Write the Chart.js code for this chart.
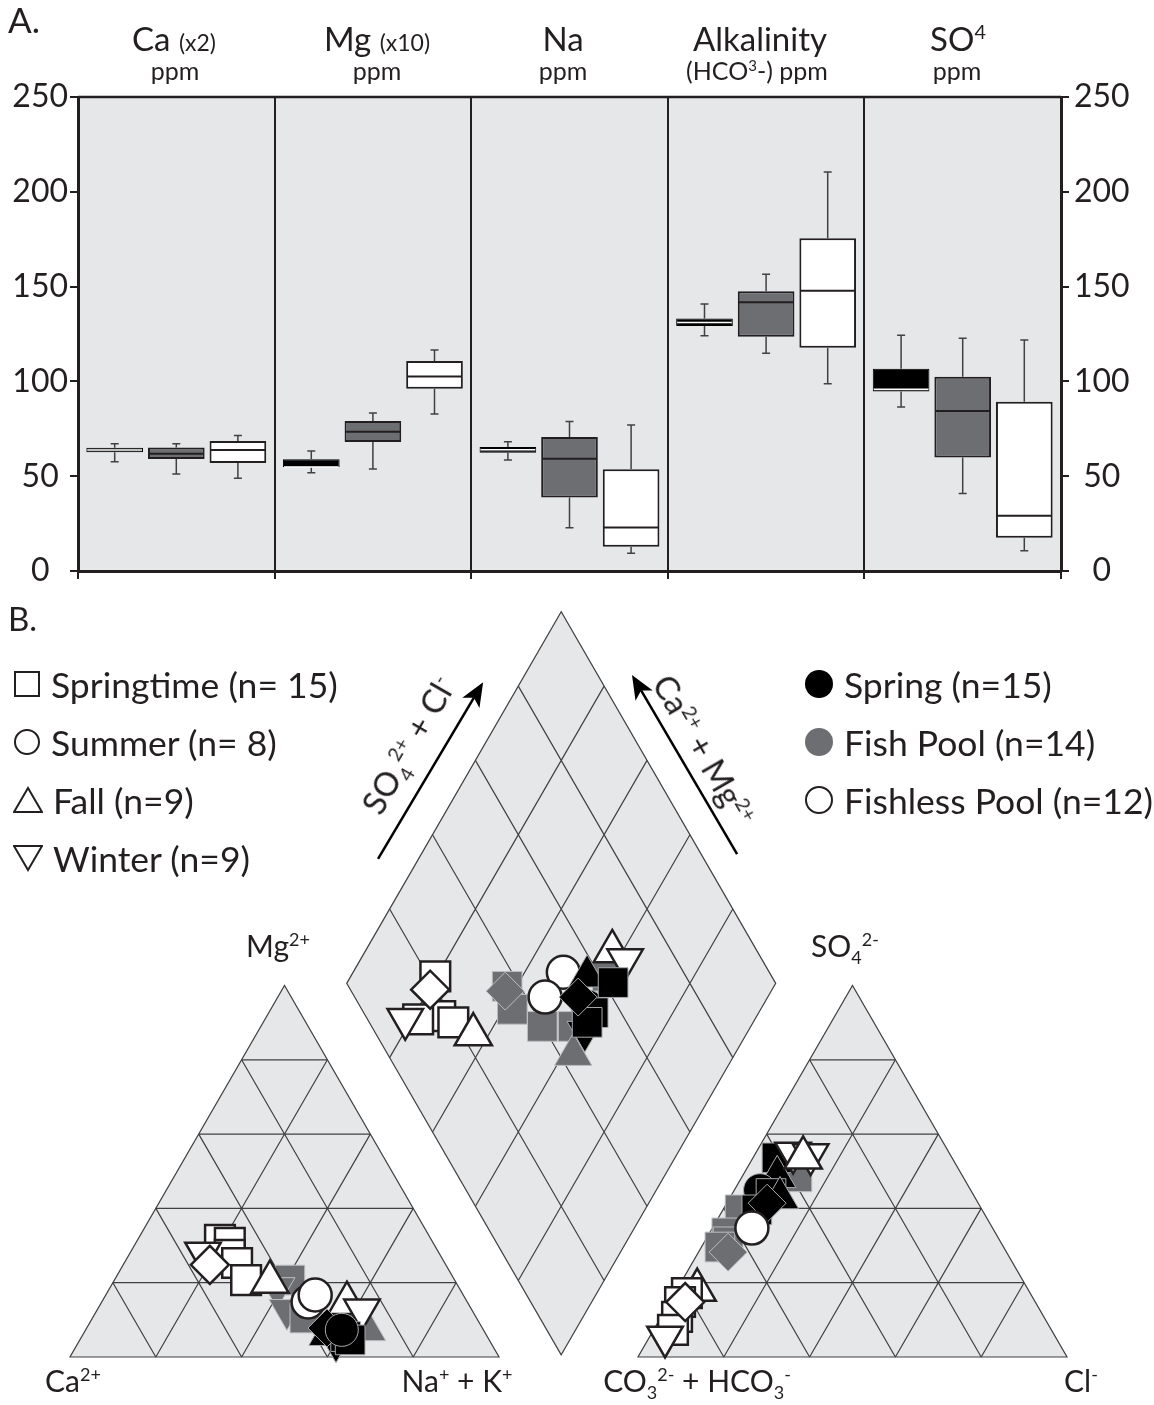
<!DOCTYPE html>
<html>
<head>
<meta charset="utf-8">
<script src="https://cdn.jsdelivr.net/npm/chart.js@4.4.1/dist/chart.umd.min.js"></script>
<style>
  body { margin: 0; background: #fff; font-family: Lato, 'Open Sans', sans-serif; color: #231f20; }
  #page { position: relative; width: 1154px; height: 1405px; overflow: hidden; }
  canvas { position: absolute; left: 0; }
  .lbl { position: absolute; white-space: nowrap; line-height: 1; }
  .ctr { transform: translate(-50%, -50%); }
  .hd { position: absolute; white-space: nowrap; line-height: 1; transform: translateX(-50%); }
  .hd small { font-size: 23px; }
  sup, sub { font-size: 60%; line-height: 0; }
  .leg { position: absolute; display: flex; align-items: center; height: 40px; font-size: 35.5px; white-space: nowrap; }
  .leg svg { margin-right: 10px; }
</style>
</head>
<body>
<div id="page">
  <canvas id="boxChart" width="1154" height="600" style="top:0"></canvas>
  <canvas id="piperChart" width="1154" height="805" style="top:600px"></canvas>

  <div class="lbl" style="left:8px;top:2px;font-size:35px">A.</div>
  <div class="hd" style="left:174px;top:22px;font-size:33px">Ca <small>(x2)</small></div>
  <div class="hd" style="left:175px;top:58px;font-size:25px">ppm</div>
  <div class="hd" style="left:377px;top:22px;font-size:33px">Mg <small>(x10)</small></div>
  <div class="hd" style="left:377px;top:58px;font-size:25px">ppm</div>
  <div class="hd" style="left:563px;top:22px;font-size:33px">Na</div>
  <div class="hd" style="left:563px;top:58px;font-size:25px">ppm</div>
  <div class="hd" style="left:760px;top:22px;font-size:33px">Alkalinity</div>
  <div class="hd" style="left:757px;top:58px;font-size:25px">(HCO<sup>3</sup>-) ppm</div>
  <div class="hd" style="left:958px;top:22px;font-size:33px">SO<sup>4</sup></div>
  <div class="hd" style="left:957px;top:58px;font-size:25px">ppm</div>

  <div class="lbl" style="left:8px;top:602px;font-size:33px">B.</div>

  <div class="leg" style="left:13px;top:664px">
    <svg width="28" height="28"><rect x="2" y="2" width="24" height="24" fill="none" stroke="#231f20" stroke-width="2"/></svg>Springtime (n= 15)</div>
  <div class="leg" style="left:13px;top:722px">
    <svg width="28" height="28"><circle cx="14" cy="14" r="12" fill="none" stroke="#231f20" stroke-width="2"/></svg>Summer (n= 8)</div>
  <div class="leg" style="left:13px;top:780px">
    <svg width="30" height="28"><polygon points="15,2 29,26 1,26" fill="none" stroke="#231f20" stroke-width="2"/></svg>Fall (n=9)</div>
  <div class="leg" style="left:13px;top:838px">
    <svg width="30" height="28"><polygon points="1,2 29,2 15,26" fill="none" stroke="#231f20" stroke-width="2"/></svg>Winter (n=9)</div>

  <div class="leg" style="left:804px;top:664px">
    <svg width="30" height="30"><circle cx="15" cy="15" r="14" fill="#000"/></svg>Spring (n=15)</div>
  <div class="leg" style="left:804px;top:722px">
    <svg width="30" height="30"><circle cx="15" cy="15" r="14" fill="#6d6e71"/></svg>Fish Pool (n=14)</div>
  <div class="leg" style="left:804px;top:780px">
    <svg width="30" height="30"><circle cx="15" cy="15" r="13" fill="#fff" stroke="#231f20" stroke-width="2"/></svg>Fishless Pool (n=12)</div>

  <div class="lbl ctr" style="left:408px;top:745px;font-size:33px;transform:translate(-50%,-50%) rotate(-60deg)">SO<sub>4</sub><sup>2+</sup> + Cl<sup>-</sup></div>
  <div class="lbl ctr" style="left:704px;top:750px;font-size:33px;transform:translate(-50%,-50%) rotate(60deg)">Ca<sup>2+</sup> + Mg<sup>2+</sup></div>

  <div class="lbl ctr" style="left:278px;top:945px;font-size:30px">Mg<sup>2+</sup></div>
  <div class="lbl ctr" style="left:845px;top:945px;font-size:30px">SO<sub>4</sub><sup>2-</sup></div>
  <div class="lbl" style="left:45px;top:1365px;font-size:30px">Ca<sup>2+</sup></div>
  <div class="lbl ctr" style="left:457px;top:1380px;font-size:30px">Na<sup>+</sup> + K<sup>+</sup></div>
  <div class="lbl ctr" style="left:697px;top:1380px;font-size:30px">CO<sub>3</sub><sup>2-</sup> + HCO<sub>3</sub><sup>-</sup></div>
  <div class="lbl" style="left:1064px;top:1365px;font-size:30px">Cl<sup>-</sup></div>
</div>

<script>
// ---- Panel A: box plots, each entry is [min, q1, median, q3, max] in ppm
const analytes = ['Ca (x2)', 'Mg (x10)', 'Na', 'Alkalinity', 'SO4'];
const springBoxes = [
  [57.6, 62.6, 63.8, 65.0, 67.1],
  [51.8, 54.7, 54.9, 58.9, 63.3],
  [58.5, 62.4, 64.0, 65.4, 68.2],
  [124.1, 129.2, 131.0, 133.2, 140.8],
  [86.5, 94.7, 95.8, 106.7, 124.4]
];
const fishBoxes = [
  [51.1, 59.1, 61.9, 65.2, 67.1],
  [53.8, 68.0, 73.5, 79.1, 83.3],
  [22.8, 38.8, 59.2, 70.7, 78.9],
  [114.8, 123.6, 141.8, 147.6, 156.5],
  [40.9, 59.8, 84.4, 102.5, 122.7]
];
const fishlessBoxes = [
  [48.9, 56.9, 63.8, 68.5, 71.5],
  [82.8, 96.1, 102.6, 110.7, 116.5],
  [9.3, 12.8, 23.0, 53.6, 77.0],
  [98.8, 117.7, 147.8, 175.5, 210.4],
  [10.7, 17.6, 29.2, 89.3, 121.8]
];
const yTicks = [0, 50, 100, 150, 200, 250];

// ---- Panel B: Piper diagram points
// cation triangle: [Mg %, Na+K %, season]
const cationSpring = [
  [6.0, 57.0, 'fall'], [4.0, 60.0, 'winter'], [5.5, 61.5, 'springtime'],
  [4.6, 63.0, 'springtime'], [7.8, 56.0, 'other'], [7.3, 59.7, 'summer']
];
const cationFish = [
  [20.7, 40.9, 'springtime'], [18.6, 39.0, 'winter'], [12.7, 44.2, 'winter'],
  [10.5, 49.5, 'springtime'], [8.5, 60.0, 'springtime'], [7.3, 65.6, 'fall']
];
const cationFishless = [
  [31.5, 19.2, 'springtime'], [30.7, 21.9, 'springtime'], [27.5, 23.5, 'springtime'],
  [25.3, 26.3, 'springtime'], [20.7, 30.7, 'springtime'], [28.0, 17.0, 'winter'],
  [24.8, 20.2, 'other'], [20.2, 36.5, 'fall'], [14.8, 48.1, 'summer'],
  [16.7, 48.8, 'summer'], [14.5, 57.3, 'fall'], [12.7, 61.7, 'winter']
];
// anion triangle: [SO4 %, Cl %, season]
const anionSpring = [
  [53.6, 5.6, 'springtime'], [48.5, 8.2, 'fall'], [44.9, 6.0, 'summer'],
  [44.0, 9.0, 'springtime'], [42.8, 11.7, 'fall'], [39.6, 7.9, 'springtime'],
  [41.4, 9.4, 'other']
];
const anionFish = [
  [48.5, 12.8, 'springtime'], [39.6, 4.0, 'springtime'], [33.4, 4.0, 'springtime'],
  [31.0, 5.5, 'springtime'], [29.6, 4.3, 'springtime'], [28.2, 6.9, 'other']
];
const anionFishless = [
  [18.0, 4.8, 'fall'], [17.2, 2.8, 'springtime'], [14.8, 2.4, 'springtime'],
  [10.8, 3.7, 'springtime'], [7.3, 4.5, 'springtime'], [5.4, 3.6, 'winter'],
  [14.8, 3.6, 'other'], [34.7, 9.2, 'summer'], [54.9, 8.7, 'winter'],
  [54.5, 13.0, 'winter'], [53.6, 11.7, 'fall']
];
// diamond: [Ca+Mg %, SO4+Cl %, season]
const diamondSpring = [
  [38.0, 49.0, 'winter'], [44.9, 57.0, 'fall'], [40.8, 53.0, 'summer'],
  [38.6, 53.5, 'springtime'], [38.7, 50.8, 'springtime'], [38.0, 62.2, 'springtime'],
  [44.2, 52.1, 'other']
];
const diamondFish = [
  [62.2, 37.0, 'springtime'], [57.9, 35.1, 'springtime'], [62.0, 35.9, 'other'],
  [48.6, 39.8, 'springtime'], [41.4, 47.0, 'springtime'], [40.2, 61.7, 'springtime'],
  [37.6, 43.2, 'fall']
];
const diamondFishless = [
  [80.3, 21.6, 'springtime'], [73.8, 17.4, 'springtime'], [78.5, 11.8, 'springtime'],
  [69.9, 19.6, 'springtime'], [81.5, 8.8, 'winter'], [79.7, 18.6, 'other'],
  [63.6, 22.6, 'fall'], [51.0, 52.0, 'summer'], [51.9, 44.4, 'summer'],
  [42.4, 66.2, 'fall'], [38.3, 68.1, 'winter']
];

Chart.defaults.font.family = "Lato, 'Open Sans', sans-serif";
Chart.defaults.color = '#231f20';

const INK = '#231f20';
const boxSets = [springBoxes, fishBoxes, fishlessBoxes];

const boxPlugin = {
  id: 'boxExtras',
  beforeDraw(chart) {
    const { ctx, chartArea: a } = chart;
    ctx.save();
    ctx.fillStyle = '#e6e7e8';
    ctx.fillRect(a.left, a.top, a.right - a.left, a.bottom - a.top);
    ctx.restore();
  },
  afterDatasetsDraw(chart) {
    const { ctx, chartArea: a } = chart;
    const y = chart.scales.y;
    ctx.save();
    boxSets.forEach((stats, i) => {
      const meta = chart.getDatasetMeta(i);
      meta.data.forEach((bar, j) => {
        const [lo, q1, med, q3, hi] = stats[j];
        const x = bar.x;
        const half = bar.width / 2;
        ctx.strokeStyle = '#414042';
        ctx.lineWidth = 1.5;
        ctx.beginPath();
        ctx.moveTo(x, y.getPixelForValue(q3));
        ctx.lineTo(x, y.getPixelForValue(hi));
        ctx.moveTo(x - 4, y.getPixelForValue(hi));
        ctx.lineTo(x + 4, y.getPixelForValue(hi));
        ctx.moveTo(x, y.getPixelForValue(q1));
        ctx.lineTo(x, y.getPixelForValue(lo));
        ctx.moveTo(x - 4, y.getPixelForValue(lo));
        ctx.lineTo(x + 4, y.getPixelForValue(lo));
        ctx.stroke();

        ctx.strokeStyle = i === 0 ? '#ffffff' : INK;
        ctx.lineWidth = i === 0 ? 1.5 : 2;
        ctx.beginPath();
        ctx.moveTo(x - half + 1, y.getPixelForValue(med));
        ctx.lineTo(x + half - 1, y.getPixelForValue(med));
        ctx.stroke();
      });
    });
    ctx.strokeStyle = INK;
    ctx.lineWidth = 2.5;
    ctx.beginPath();
    ctx.moveTo(a.left, a.top);
    ctx.lineTo(a.right, a.top);
    ctx.stroke();
    ctx.restore();
  }
};

function boxDataset(stats, fill, border, width) {
  return {
    data: stats.map(s => [s[1], s[3]]),
    backgroundColor: fill,
    borderColor: border,
    borderWidth: width,
    borderSkipped: false,
    categoryPercentage: 0.94,
    barPercentage: 0.92
  };
}

const yAxis = (position, width) => ({
  position,
  min: 0,
  max: 250,
  afterBuildTicks: s => { s.ticks = yTicks.map(v => ({ value: v })); },
  ticks: { font: { size: 32 }, color: INK, crossAlign: 'center', padding: position === 'left' ? 2 : 5 },
  grid: { drawOnChartArea: false, tickLength: 8, color: INK, lineWidth: 2 },
  border: { color: INK, width: 3 },
  afterFit: s => { s.width = width; }
});

new Chart(document.getElementById('boxChart'), {
  type: 'bar',
  data: {
    labels: analytes,
    datasets: [
      boxDataset(springBoxes, '#000000', '#000000', 1),
      boxDataset(fishBoxes, '#6d6e71', INK, 2),
      boxDataset(fishlessBoxes, '#ffffff', INK, 2)
    ]
  },
  options: {
    responsive: false,
    animation: false,
    devicePixelRatio: 1,
    layout: { autoPadding: false, padding: { top: 97, left: 0, right: 0, bottom: 0 } },
    plugins: { legend: { display: false }, tooltip: { enabled: false } },
    scales: {
      x: {
        grid: { offset: true, color: INK, lineWidth: 2, tickLength: 8, drawOnChartArea: true },
        border: { color: INK, width: 3 },
        ticks: { callback: () => '' },
        afterFit: s => { s.height = 29; }
      },
      y: yAxis('left', 78),
      y2: yAxis('right', 93)
    }
  },
  plugins: [boxPlugin]
});

// ---- Panel B geometry (triangle side = 100 units)
const H = Math.sqrt(3) / 2;
const ANION_X = 132.4;
const DIAMOND_BASE = { x: 114.5, y: 0.5 };

const cationXY = ([mg, nak]) => ({ x: nak + mg / 2, y: mg * H });
const anionXY = ([so4, cl]) => ({ x: ANION_X + cl + so4 / 2, y: so4 * H });
const diamondXY = ([camg, so4cl]) => ({
  x: DIAMOND_BASE.x + (so4cl - camg) / 2,
  y: DIAMOND_BASE.y + (camg + so4cl) * H
});

const seasonStyle = {
  springtime: { style: 'rect', radius: 21, rot: 0 },
  summer: { style: 'circle', radius: 16.5, rot: 0 },
  fall: { style: 'triangle', radius: 21.5, rot: 0 },
  winter: { style: 'triangle', radius: 20.5, rot: 180 },
  other: { style: 'rectRot', radius: 19, rot: 0 }
};
const poolStyle = {
  spring: { fill: '#000000', border: '#a7a9ac', width: 1 },
  fish: { fill: '#6d6e71', border: '#bcbec0', width: 1 },
  fishless: { fill: '#ffffff', border: INK, width: 2.5 }
};

// Chart.js paints the first dataset on top, so each list runs top layer first
function pointSet(points, project, pool) {
  const p = poolStyle[pool];
  return {
    data: points.map(project),
    pointStyle: points.map(s => seasonStyle[s[2]].style),
    pointRadius: points.map(s => seasonStyle[s[2]].radius),
    pointRotation: points.map(s => seasonStyle[s[2]].rot),
    pointBackgroundColor: p.fill,
    pointBorderColor: p.border,
    pointBorderWidth: p.width,
    showLine: false,
    clip: false
  };
}

function triangleGrid(ox) {
  const segs = [];
  [20, 40, 60, 80].forEach(t => {
    segs.push([[ox + t / 2, t * H], [ox + 100 - t / 2, t * H]]);
    segs.push([[ox + t, 0], [ox + t + (100 - t) / 2, (100 - t) * H]]);
    segs.push([[ox + 100 - t, 0], [ox + (100 - t) / 2, (100 - t) * H]]);
  });
  return segs;
}

function diamondGrid() {
  const B = DIAMOND_BASE;
  const u = [-50, 100 * H];
  const v = [50, 100 * H];
  const segs = [];
  [0.2, 0.4, 0.6, 0.8].forEach(f => {
    const p = [B.x + f * u[0], B.y + f * u[1]];
    segs.push([p, [p[0] + v[0], p[1] + v[1]]]);
    const q = [B.x + f * v[0], B.y + f * v[1]];
    segs.push([q, [q[0] + u[0], q[1] + u[1]]]);
  });
  return segs;
}

const B0 = DIAMOND_BASE;
const shapes = [
  [[0, 0], [100, 0], [50, 100 * H]],
  [[ANION_X, 0], [ANION_X + 100, 0], [ANION_X + 50, 100 * H]],
  [[B0.x, B0.y], [B0.x - 50, B0.y + 100 * H], [B0.x, B0.y + 200 * H], [B0.x + 50, B0.y + 100 * H]]
];
const gridSegs = [...triangleGrid(0), ...triangleGrid(ANION_X), ...diamondGrid()];
const arrows = [
  [[71.8, 116.1], [96.3, 157.3]],
  [[155.5, 117.2], [131.0, 159.0]]
];

const piperPlugin = {
  id: 'piperFrame',
  beforeDatasetsDraw(chart) {
    const { ctx } = chart;
    const sx = chart.scales.x, sy = chart.scales.y;
    const P = ([x, y]) => [sx.getPixelForValue(x), sy.getPixelForValue(y)];
    ctx.save();
    shapes.forEach(poly => {
      ctx.beginPath();
      poly.forEach((pt, i) => {
        const [x, y] = P(pt);
        if (i === 0) ctx.moveTo(x, y); else ctx.lineTo(x, y);
      });
      ctx.closePath();
      ctx.fillStyle = '#e6e7e8';
      ctx.fill();
      ctx.strokeStyle = '#414042';
      ctx.lineWidth = 1.2;
      ctx.stroke();
    });
    ctx.beginPath();
    gridSegs.forEach(([a, b]) => {
      const [x1, y1] = P(a);
      const [x2, y2] = P(b);
      ctx.moveTo(x1, y1);
      ctx.lineTo(x2, y2);
    });
    ctx.strokeStyle = '#414042';
    ctx.lineWidth = 1.2;
    ctx.stroke();

    arrows.forEach(([a, b]) => {
      const [x1, y1] = P(a);
      const [x2, y2] = P(b);
      const ang = Math.atan2(y2 - y1, x2 - x1);
      const len = 24, w = 10;
      const bx = x2 - len * Math.cos(ang), by = y2 - len * Math.sin(ang);
      ctx.strokeStyle = '#000';
      ctx.lineWidth = 2.5;
      ctx.beginPath();
      ctx.moveTo(x1, y1);
      ctx.lineTo(bx + 6 * Math.cos(ang), by + 6 * Math.sin(ang));
      ctx.stroke();
      ctx.fillStyle = '#000';
      ctx.beginPath();
      ctx.moveTo(x2, y2);
      ctx.lineTo(bx + w * Math.sin(ang), by - w * Math.cos(ang));
      ctx.lineTo(bx + 6 * Math.cos(ang), by + 6 * Math.sin(ang));
      ctx.lineTo(bx - w * Math.sin(ang), by + w * Math.cos(ang));
      ctx.closePath();
      ctx.fill();
    });
    ctx.restore();
  }
};

new Chart(document.getElementById('piperChart'), {
  type: 'scatter',
  data: {
    datasets: [
      pointSet(cationSpring, cationXY, 'spring'),
      pointSet(cationFishless, cationXY, 'fishless'),
      pointSet(cationFish, cationXY, 'fish'),
      pointSet(anionFishless, anionXY, 'fishless'),
      pointSet(anionSpring, anionXY, 'spring'),
      pointSet(anionFish, anionXY, 'fish'),
      pointSet(diamondSpring, diamondXY, 'spring'),
      pointSet(diamondFishless, diamondXY, 'fishless'),
      pointSet(diamondFish, diamondXY, 'fish')
    ]
  },
  options: {
    responsive: false,
    animation: false,
    devicePixelRatio: 1,
    layout: { autoPadding: false, padding: 0 },
    plugins: { legend: { display: false }, tooltip: { enabled: false } },
    scales: {
      x: { type: 'linear', min: -16.32, max: 252.68, display: false },
      y: { type: 'linear', min: -11.19, max: 176.46, display: false }
    }
  },
  plugins: [piperPlugin]
});
</script>
</body>
</html>
